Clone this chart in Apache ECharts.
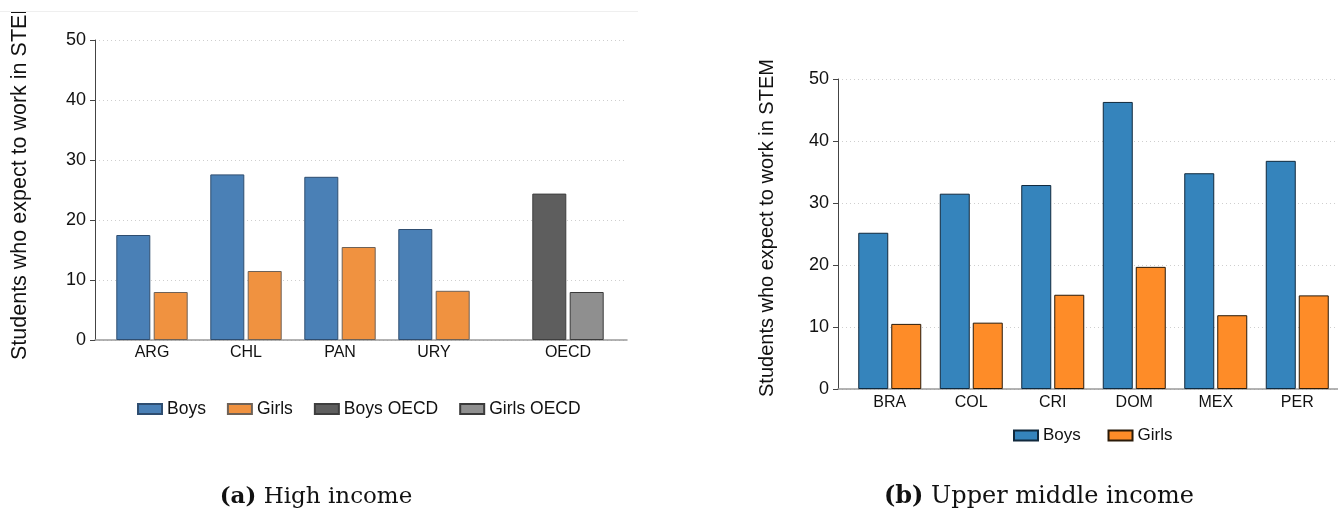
<!DOCTYPE html>
<html>
<head>
<meta charset="utf-8">
<script src="https://cdn.jsdelivr.net/npm/echarts@6/dist/echarts.min.js"></script>
<style>html,body{margin:0;padding:0;background:#fff;}#c{width:1338px;height:513px;}</style>
</head>
<body>
<div id="c"></div>
<script>
// ---- Data ----
const highCountries = ['ARG', 'CHL', 'PAN', 'URY'];
const highBoys = [17.5, 27.6, 27.2, 18.5];
const highGirls = [8.0, 11.5, 15.5, 8.2];
const oecdCategory = ['OECD'];
const oecdBoys = [24.4];
const oecdGirls = [8.0];

const umCountries = ['BRA', 'COL', 'CRI', 'DOM', 'MEX', 'PER'];
const umBoys = [25.2, 31.5, 32.9, 46.3, 34.8, 36.8];
const umGirls = [10.5, 10.7, 15.2, 19.7, 11.9, 15.1];

const yTicks = [0, 10, 20, 30, 40, 50];
const yTitle = 'Students who expect to work in STEM';
const captionA = ['(a)', 'High income'];
const captionB = ['(b)', 'Upper middle income'];

// ---- Chart ----
const chart = echarts.init(document.getElementById('c'), null, {renderer: 'canvas'});
const sans = 'Liberation Sans, Arial, Helvetica, sans-serif';
const serif = 'DejaVu Serif, Liberation Serif, serif';
const yMin = yTicks[0], yMax = yTicks[yTicks.length - 1], yInt = yTicks[1] - yTicks[0];

function frameY(gi) {
  return {
    gridIndex: gi, type: 'value', min: yMin, max: yMax, interval: yInt,
    axisLine: {show: true, lineStyle: {color: '#444', width: 1}},
    axisTick: {show: true, length: 5, lineStyle: {color: '#444'}},
    axisLabel: {color: '#111', fontSize: 18, fontFamily: sans, margin: 9},
    splitLine: {show: true, lineStyle: {color: '#cfcfcf', type: [1, 3], width: 1}}
  };
}
function hiddenY(gi) {
  return {gridIndex: gi, type: 'value', min: yMin, max: yMax, show: false, splitLine: {show: false}};
}
function frameX(gi) {
  return {
    gridIndex: gi, type: 'value', min: 0, max: 1,
    axisLine: {show: true, onZero: false, lineStyle: {color: '#9a9a9a', width: 1.5}},
    axisTick: {show: false}, axisLabel: {show: false}, splitLine: {show: false}
  };
}
function barX(gi, cats, margin) {
  return {
    gridIndex: gi, type: 'category', data: cats,
    axisLine: {show: false}, axisTick: {show: false},
    axisLabel: {color: '#111', fontSize: 16, fontFamily: sans, margin: margin}
  };
}
function bar(name, gi, data, color, border, width) {
  return {
    name: name, type: 'bar', xAxisIndex: gi, yAxisIndex: gi, data: data,
    barWidth: width, barGap: '10%',
    itemStyle: {color: color, borderColor: border, borderWidth: 1},
    emphasis: {disabled: true}
  };
}

const option = {
  backgroundColor: '#fff',
  animation: false,
  grid: [
    {left: 95, top: 40, width: 532, height: 300},   // 0 left frame
    {left: 105, top: 40, width: 376, height: 300},  // 1 left countries
    {left: 521, top: 40, width: 94, height: 300},   // 2 left OECD
    {left: 838, top: 79, width: 500, height: 310},  // 3 right frame
    {left: 849, top: 79, width: 489, height: 310}   // 4 right countries
  ],
  xAxis: [
    frameX(0),
    barX(1, highCountries, 5),
    barX(2, oecdCategory, 5),
    frameX(3),
    barX(4, umCountries, 6)
  ],
  yAxis: [frameY(0), hiddenY(1), hiddenY(2), frameY(3), hiddenY(4)],
  legend: [
    {
      data: ['Boys', 'Girls', 'Boys OECD', 'Girls OECD'],
      left: 137, top: 400, padding: 0, icon: 'rect', itemWidth: 24, itemHeight: 10, itemGap: 21,
      textStyle: {fontSize: 17.5, fontFamily: sans, color: '#111'},
      selectedMode: false
    },
    {
      data: [{name: 'Boys ', icon: 'rect'}, {name: 'Girls ', icon: 'rect'}],
      left: 1013, top: 427, padding: 0, icon: 'rect', itemWidth: 24, itemHeight: 10, itemGap: 22,
      textStyle: {fontSize: 17, fontFamily: sans, color: '#111'},
      selectedMode: false
    }
  ],
  series: [
    bar('Boys', 1, highBoys, '#4a80b6', '#2e4d70', 34),
    bar('Girls', 1, highGirls, '#f09240', '#6e6258', 34),
    bar('Boys OECD', 2, oecdBoys, '#5e5e5e', '#3e3e3e', 34),
    bar('Girls OECD', 2, oecdGirls, '#8f8f8f', '#3a3a3a', 34),
    bar('Boys ', 4, umBoys, '#3584bc', '#10293d', 30),
    bar('Girls ', 4, umGirls, '#fe8c28', '#2a1a08', 30)
  ],
  graphic: [
    {type: 'text', z: 10,
     style: {text: yTitle, fontSize: 21.5, fontFamily: sans, fill: '#111'},
     rotation: Math.PI / 2, x: 9, y: 360},
    {type: 'rect', z: 20, shape: {x: 0, y: 0, width: 640, height: 11}, style: {fill: '#fff'}},
    {type: 'line', z: 21, shape: {x1: 0, y1: 11.5, x2: 638, y2: 11.5}, style: {stroke: '#efefef', lineWidth: 1}},
    {type: 'text', z: 10,
     style: {text: yTitle, fontSize: 20, fontFamily: sans, fill: '#111'},
     rotation: Math.PI / 2, x: 757, y: 397},
    {type: 'text', z: 10, x: 316, y: 497,
     style: {text: '{b|' + captionA[0] + '} ' + captionA[1], fontSize: 23, fontFamily: serif, fill: '#111',
             align: 'center', verticalAlign: 'middle',
             rich: {b: {fontWeight: 'bold', fontSize: 23, fontFamily: serif, fill: '#111'}}}},
    {type: 'text', z: 10, x: 1039, y: 497,
     style: {text: '{b|' + captionB[0] + '} ' + captionB[1], fontSize: 24, fontFamily: serif, fill: '#111',
             align: 'center', verticalAlign: 'middle',
             rich: {b: {fontWeight: 'bold', fontSize: 24, fontFamily: serif, fill: '#111'}}}}
  ]
};
chart.setOption(option);
</script>
</body>
</html>
